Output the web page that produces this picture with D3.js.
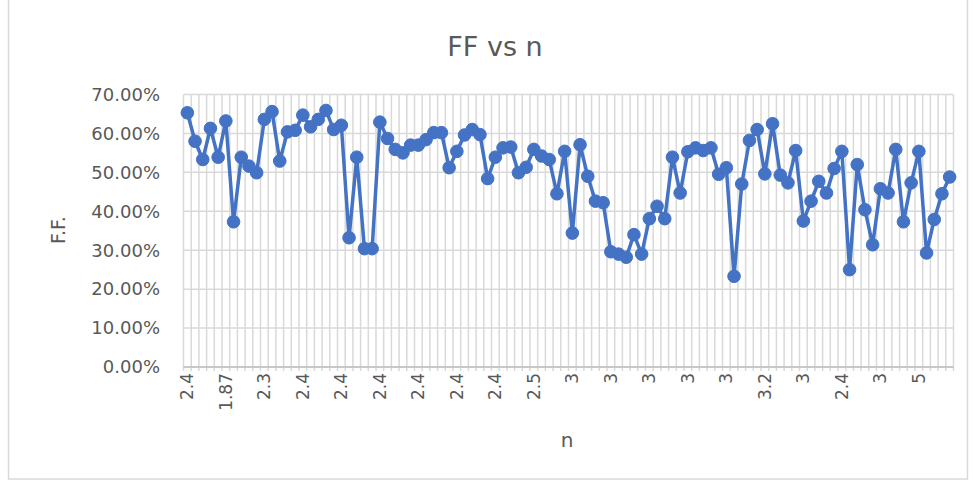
<!DOCTYPE html>
<html>
<head>
<meta charset="utf-8">
<script src="https://cdn.jsdelivr.net/npm/d3@7"></script>
<style>
  html, body { margin: 0; padding: 0; background: #fff; }
  svg { display: block; }
  text { font-family: "DejaVu Sans", Verdana, sans-serif; fill: #595959; }
</style>
</head>
<body>
<svg id="chart" width="975" height="486"></svg>
<script>
// ---- data ----
const title = "FF vs n";
const yTitle = "F.F.";
const xTitle = "n";
// F.F. values (%) for the 100 samples
const ffValues = [
  65.3, 58.0, 53.3, 61.3, 53.9, 63.2, 37.3, 53.9, 51.6, 49.9,
  63.6, 65.6, 52.9, 60.4, 60.8, 64.7, 61.7, 63.6, 65.9, 61.0,
  62.1, 33.2, 53.9, 30.4, 30.4, 62.9, 58.7, 55.9, 55.0, 57.0,
  57.0, 58.4, 60.2, 60.2, 51.2, 55.4, 59.6, 61.0, 59.7, 48.4,
  53.9, 56.3, 56.5, 49.9, 51.3, 55.9, 54.2, 53.3, 44.5, 55.4,
  34.4, 57.1, 49.0, 42.6, 42.2, 29.6, 29.0, 28.2, 34.0, 29.0,
  38.1, 41.3, 38.1, 53.9, 44.7, 55.3, 56.3, 55.6, 56.3, 49.5,
  51.2, 23.3, 47.0, 58.2, 61.0, 49.6, 62.5, 49.3, 47.3, 55.6,
  37.5, 42.6, 47.7, 44.7, 51.0, 55.4, 25.0, 52.0, 40.4, 31.4,
  45.8, 44.7, 55.9, 37.3, 47.3, 55.4, 29.3, 37.9, 44.5, 48.8
];
// sample index (categories)
const categories = ffValues.map((d, i) => i);
// n labels shown on the axis (every 5th sample)
const nTickLabels = ["2.4", "1.87", "2.3", "2.4", "2.4", "2.4", "2.4", "2.4", "2.4", "2.5",
                     "3", "3", "3", "3", "3", "3.2", "3", "2.4", "3", "5"];
const tickStep = 5;
const yTicks = [0, 10, 20, 30, 40, 50, 60, 70];

// ---- layout ----
const svg = d3.select("#chart");
const pLeft = 183.5, pRight = 953.5, pTop = 94.5, pBottom = 367;
const grid = "#d9d9d9";
const blue = "#4472C4";

// outer chart border
svg.append("rect")
  .attr("x", 8.5).attr("y", -5).attr("width", 959).attr("height", 484)
  .attr("fill", "none").attr("stroke", grid).attr("stroke-width", 1.5);

const x = d3.scaleBand().domain(categories).range([pLeft, pRight]).padding(0);
const y = d3.scaleLinear().domain([0, 70]).range([pBottom, pTop]);

// horizontal gridlines
svg.append("g").selectAll("line").data(yTicks).join("line")
  .attr("x1", pLeft).attr("x2", pRight)
  .attr("y1", d => y(d)).attr("y2", d => y(d))
  .attr("stroke", grid).attr("stroke-width", 1.5);

// vertical gridlines at category boundaries
const bounds = categories.map(c => x(c)).concat([x(categories[categories.length - 1]) + x.bandwidth()]);
svg.append("g").selectAll("line").data(bounds).join("line")
  .attr("x1", d => d).attr("x2", d => d)
  .attr("y1", pTop).attr("y2", pBottom)
  .attr("stroke", grid).attr("stroke-width", 1.5);

// small tick marks below the axis
svg.append("g").selectAll("line").data(bounds).join("line")
  .attr("x1", d => d).attr("x2", d => d)
  .attr("y1", pBottom).attr("y2", pBottom + 4)
  .attr("stroke", grid).attr("stroke-width", 1.5);

// x axis line
svg.append("line")
  .attr("x1", pLeft).attr("x2", pRight).attr("y1", pBottom).attr("y2", pBottom)
  .attr("stroke", "#bfbfbf").attr("stroke-width", 1.5);

// y tick labels
svg.append("g").selectAll("text").data(yTicks).join("text")
  .attr("x", 160).attr("y", d => y(d)).attr("dy", "0.35em")
  .attr("text-anchor", "end").attr("font-size", 18)
  .text(d => d3.format(".2f")(d) + "%");

// x tick labels (rotated)
const tickIdx = categories.filter(c => c % tickStep === 0);
svg.append("g").selectAll("text").data(tickIdx).join("text")
  .attr("transform", d => `translate(${x(d) + x.bandwidth() / 2},${pBottom + 6}) rotate(-90)`)
  .attr("dy", "0.35em")
  .attr("text-anchor", "end").attr("font-size", 17)
  .text(d => nTickLabels[d / tickStep]);

// line
const line = d3.line()
  .x((d, i) => x(categories[i]) + x.bandwidth() / 2)
  .y(d => y(d));
svg.append("path").datum(ffValues)
  .attr("d", line).attr("fill", "none")
  .attr("stroke", blue).attr("stroke-width", 3.5).attr("stroke-linejoin", "round");

// markers
svg.append("g").selectAll("circle").data(ffValues).join("circle")
  .attr("cx", (d, i) => x(categories[i]) + x.bandwidth() / 2)
  .attr("cy", d => y(d))
  .attr("r", 6.3)
  .attr("fill", blue).attr("stroke", blue).attr("stroke-width", 1);

// titles
svg.append("text").attr("x", 495).attr("y", 56)
  .attr("text-anchor", "middle").attr("font-size", 27)
  .text(title);

svg.append("text")
  .attr("transform", `translate(58,230) rotate(-90)`)
  .attr("dy", "0.35em").attr("text-anchor", "middle").attr("font-size", 19)
  .text(yTitle);

svg.append("text").attr("x", 567).attr("y", 447)
  .attr("text-anchor", "middle").attr("font-size", 20)
  .text(xTitle);
</script>
</body>
</html>
